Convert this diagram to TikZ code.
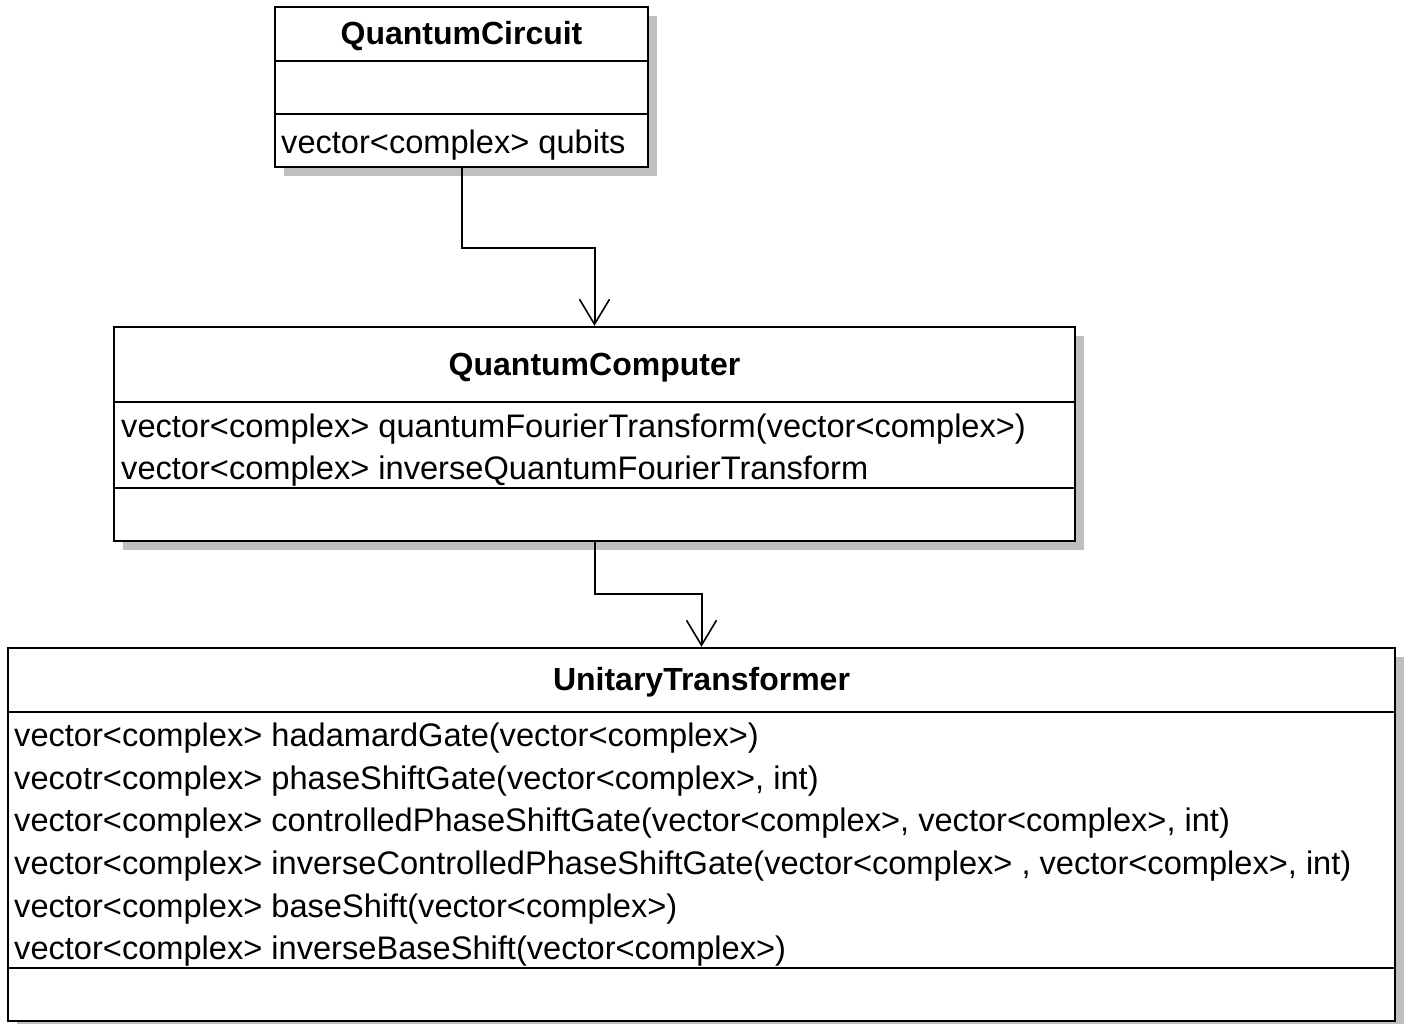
\documentclass[tikz,border=0pt]{standalone}
\usepackage{fontspec}
\setmainfont{Liberation Sans}
\usetikzlibrary{arrows.meta,shadows}
\begin{document}
\begin{tikzpicture}[x=1pt,y=-1pt,
  umlbox/.style={draw=black, line width=2.4pt, fill=white, rectangle, inner sep=0pt,
    drop shadow={shadow xshift=9pt, shadow yshift=-9pt, fill=black!25, opacity=1}},
  divider/.style={draw=black, line width=2.4pt},
  title/.style={anchor=base, inner sep=0pt, font=\fontsize{32}{40}\selectfont\bfseries},
  member/.style={anchor=base west, inner sep=0pt, font=\fontsize{32.6}{40}\selectfont},
  conn/.style={draw=black, line width=2pt, -{Straight Barb[length=25pt, width=30pt, line width=1.6pt]}}
]
\useasboundingbox[fill=white] (0,0) rectangle (1411,1023);

% boxes
\node[umlbox, minimum width=373pt, minimum height=160pt] (qc) at (461.5,87) {};
\node[umlbox, minimum width=961pt, minimum height=214pt] (qcomp) at (594.5,434) {};
\node[umlbox, minimum width=1387pt, minimum height=373pt] (ut) at (701.5,834.5) {};

% dividers
\draw[divider] (qc.west |- 0,61) -- (qc.east |- 0,61);
\draw[divider] (qc.west |- 0,114) -- (qc.east |- 0,114);
\draw[divider] (qcomp.west |- 0,402) -- (qcomp.east |- 0,402);
\draw[divider] (qcomp.west |- 0,488) -- (qcomp.east |- 0,488);
\draw[divider] (ut.west |- 0,712) -- (ut.east |- 0,712);
\draw[divider] (ut.west |- 0,968) -- (ut.east |- 0,968);

% texts
\node[title] (qct) at (461.5,44) {QuantumCircuit};
\node[member] (qcm1) at (281,153) {vector<complex> qubits};

\node[title] (qcompt) at (594.5,375) {QuantumComputer};
\node[member] (qcompm1) at (121,437) {vector<complex> quantumFourierTransform(vector<complex>)};
\node[member] (qcompm2) at (121,479) {vector<complex> inverseQuantumFourierTransform};

\node[title] (utt) at (701.5,690) {UnitaryTransformer};
\node[member] (utm1) at (14,746) {vector<complex> hadamardGate(vector<complex>)};
\node[member] (utm2) at (14,789) {vecotr<complex> phaseShiftGate(vector<complex>, int)};
\node[member] (utm3) at (14,831) {vector<complex> controlledPhaseShiftGate(vector<complex>, vector<complex>, int)};
\node[member] (utm4) at (14,874) {vector<complex> inverseControlledPhaseShiftGate(vector<complex> , vector<complex>, int)};
\node[member] (utm5) at (14,917) {vector<complex> baseShift(vector<complex>)};
\node[member] (utm6) at (14,959) {vector<complex> inverseBaseShift(vector<complex>)};

% connectors
\draw[conn] (qc.south) -- ++(0,80) -| (qcomp.north);
\draw[conn] (qcomp.south) -- ++(0,52) -| (ut.north);
\end{tikzpicture}
\end{document}
